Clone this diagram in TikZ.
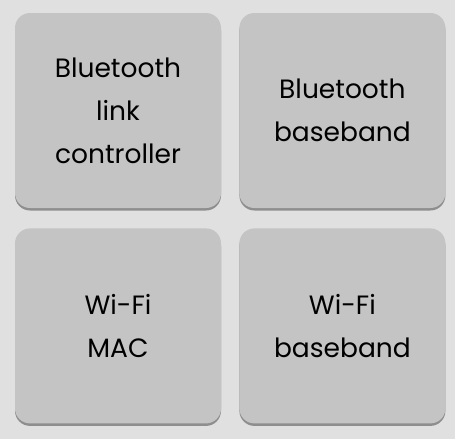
\documentclass[tikz,border=0pt]{standalone}
\usepackage{fontspec}
\setmainfont{Poppins}
\usetikzlibrary{positioning,shadows}
\begin{document}
\begin{tikzpicture}[x=1pt,y=-1pt,
        block/.style={fill=black!23,rounded corners=15pt,minimum width=206pt,minimum height=195pt,
            align=center,font=\fontsize{26.5}{43}\selectfont,text=black,
            drop shadow={shadow xshift=0pt,shadow yshift=-2.5pt,opacity=0.55,fill=black!70}}]
        % background
        \fill[black!12] (0,0) rectangle (455,439);
        \useasboundingbox (0,0) rectangle (455,439);
        \node[block] (btlc) at (118,110.5) {Bluetooth\\link\\controller};
        \node[block,right=18pt of btlc] (btbb) {Bluetooth\\baseband};
        \node[block,below=20pt of btlc] (wifimac) {Wi-Fi\\MAC};
        \node[block,right=18pt of wifimac] (wifibb) {Wi-Fi\\baseband};
    \end{tikzpicture}
\end{document}
